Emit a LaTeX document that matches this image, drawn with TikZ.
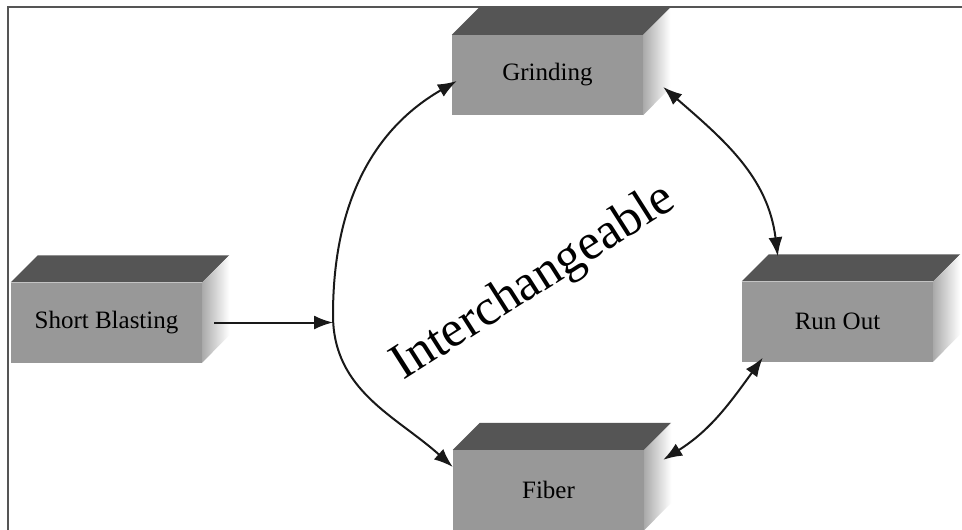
\documentclass[tikz,border=0pt]{standalone}
\usepackage{fontspec}
\setmainfont{Liberation Serif}
\usetikzlibrary{arrows.meta,calc}
\definecolor{frontgray}{RGB}{152,152,152}
\definecolor{topgray}{RGB}{85,85,85}
\definecolor{sidegray}{RGB}{170,170,170}
\definecolor{framegray}{RGB}{85,85,85}
\begin{document}
\begin{tikzpicture}[x=1pt,y=-1pt,
  box/.style={fill=frontgray, minimum width=191pt, minimum height=80pt, inner sep=0pt,
    font=\fontsize{25}{25}\selectfont, text=black},
  topface/.style={fill=topgray},
  sideface/.style={left color=sidegray, right color=white},
  link/.style={line width=2pt, draw=black!90},
  oneway/.style={link, -{Latex[length=19pt,width=14pt]}},
  twoway/.style={link, {Latex[length=19pt,width=14pt]}-{Latex[length=19pt,width=14pt]}},
  bigtext/.style={font=\fontsize{51}{51}\selectfont, text=black, inner sep=0pt}]
\useasboundingbox (0,0) rectangle (962,530);
\fill[white] (0,0) rectangle (962,530);

\node[box] (sb) at (106.5,322.5) {Short Blasting};
\node[box] (gr) at (547.5,75) {Grinding};
\node[box] (ro) at (837.5,321.5) {Run Out};
\node[box] (fi) at (548.5,490) {Fiber};

\foreach \n in {sb,gr,ro,fi}{
  \fill[topface] (\n.north west) -- ++(27,-27) -- ($(\n.north east)+(27,-27)$) -- (\n.north east) -- cycle;
  \shade[sideface] (\n.north east) -- ++(27,-27) -- ++(0,80) -- (\n.south east) -- cycle;
}

\node[bigtext, rotate=32.5, anchor=base west] (ic) at (403,381) {Interchangeable};

\coordinate (arcmid) at (333,315);
\draw[oneway, shorten <=12pt] (sb) -- (arcmid |- sb);
\draw[twoway] ($(gr.west)+(5,6)$) to[out=210,in=90] (arcmid) to[out=-90,in=138] ($(fi.west)+(0,-23)$);
\draw[twoway] ($(gr.east)+(20,12)$) to[out=-41,in=97] ($(ro.north west)+(36,-25)$);
\draw[twoway] ($(fi.north east)+(19,10)$) to[out=32,in=234] ($(ro.south west)+(21,-4)$);

\draw[line width=1.8pt, framegray] (962,7) -- (8,7) -- (8,530);
\end{tikzpicture}
\end{document}
